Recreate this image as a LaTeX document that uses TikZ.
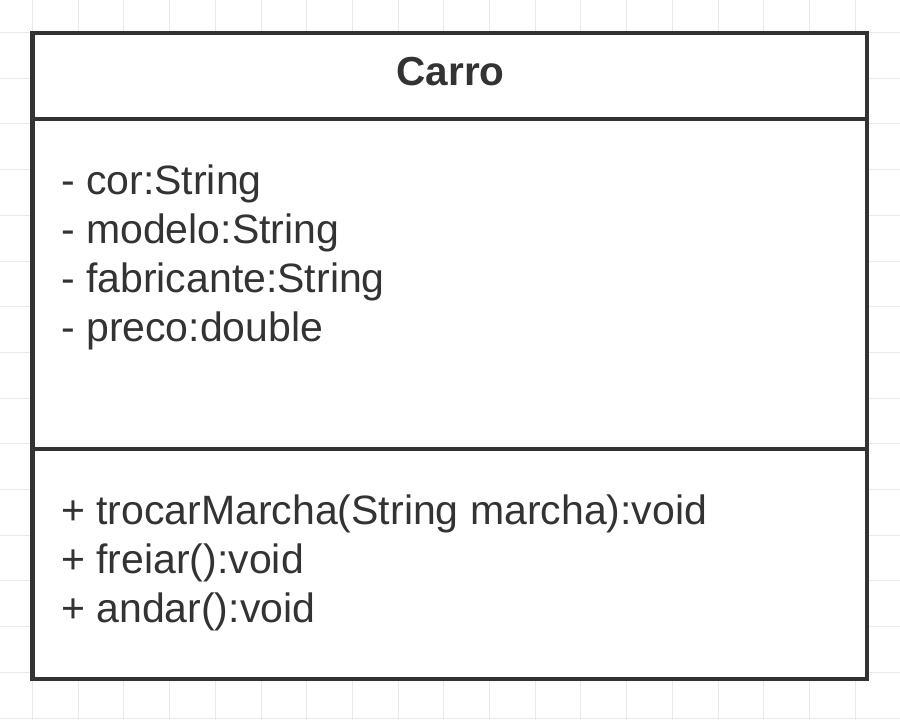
\documentclass[tikz,border=0pt]{standalone}
\usepackage{fontspec}
\setmainfont{Liberation Sans}
\begin{document}
\begin{tikzpicture}[x=1pt,y=-1pt,
  gridline/.style={draw=gridgray,line width=1pt},
  umlframe/.style={draw=umldark,line width=4.5pt,fill=white,line join=miter},
  umlrule/.style={draw=umldark,line width=4.5pt},
  title/.style={font=\fontsize{40.5}{48}\selectfont\bfseries,text=umldark,inner sep=0pt,anchor=base},
  member/.style={font=\fontsize{41}{49}\selectfont,text=umldark,inner sep=0pt,anchor=base west}]
\definecolor{gridgray}{HTML}{EAEAEA}
\definecolor{umldark}{HTML}{333333}
\useasboundingbox (0,0) rectangle (900,720);
\fill[white] (0,0) rectangle (900,720);
% background grid
\foreach \k in {0,...,18}{
  \draw[gridline] ({32.5+45.7*\k},0) -- ({32.5+45.7*\k},720);
  \draw[gridline] (0,{32.5+45.7*\k}) -- (900,{32.5+45.7*\k});
}
% class box with its three compartments
\draw[umlframe] (32.5,33) rectangle (867,679);
\coordinate (d1l) at (32.5,119);
\coordinate (d1r) at (867,119);
\coordinate (d2l) at (32.5,449);
\coordinate (d2r) at (867,449);
\draw[umlrule] (d1l) -- (d1r);
\draw[umlrule] (d2l) -- (d2r);
% class name
\node[title] (name) at (450.5,85) {Carro};
% attributes
\node[member] (a1) at (61,194.5) {- cor:String};
\node[member] (a2) at (61,243.5) {- modelo:String};
\node[member] (a3) at (61,292.5) {- fabricante:String};
\node[member] (a4) at (61,341.5) {- preco:double};
% operations
\node[member] (m1) at (61,524.5) {+ trocarMarcha(String marcha):void};
\node[member] (m2) at (61,573.5) {+ freiar():void};
\node[member] (m3) at (61,622.5) {+ andar():void};
\end{tikzpicture}
\end{document}
